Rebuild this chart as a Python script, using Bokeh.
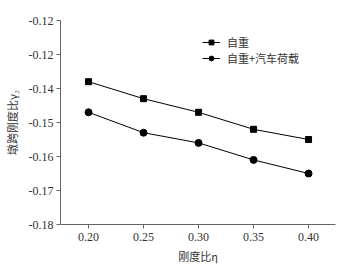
from bokeh.plotting import figure
from bokeh.models import Legend, LegendItem, FixedTicker, Range1d
from bokeh.embed import file_html
from bokeh.resources import INLINE

eta = [0.20, 0.25, 0.30, 0.35, 0.40]
self_weight = [-0.138, -0.143, -0.147, -0.152, -0.155]
self_weight_vehicle = [-0.147, -0.153, -0.156, -0.161, -0.165]
y_ticks = [-0.18, -0.17, -0.16, -0.15, -0.14, -0.13, -0.12]
y_tick_labels = ["-0.18", "-0.17", "-0.16", "-0.15", "-0.14", "-0.12", "-0.12"]
x_tick_labels = ["0.20", "0.25", "0.30", "0.35", "0.40"]
series_names = ["自重", "自重+汽车荷载"]

serif = "'Liberation Serif', serif"
cjk = "Noto Sans CJK SC"
axis_color = "#666666"
text_color = "#333333"

p = figure(width=343, height=255, frame_width=275, frame_height=204,
           x_range=Range1d(0.1745, 0.4245), y_range=Range1d(-0.18, -0.12),
           output_backend="svg", toolbar_location=None,
           min_border_left=54, min_border_right=14, min_border_top=20, min_border_bottom=10)
p.outline_line_color = None
p.xgrid.visible = False
p.ygrid.visible = False
p.background_fill_color = "white"

r1 = p.line(eta, self_weight, line_color="black", line_width=1)
s1 = p.scatter(eta, self_weight, marker="square", size=6, fill_color="black", line_color="black")
r2 = p.line(eta, self_weight_vehicle, line_color="black", line_width=1)
s2 = p.scatter(eta, self_weight_vehicle, marker="circle", size=7, fill_color="black", line_color="black")

for ax in (p.xaxis[0], p.yaxis[0]):
    ax.axis_line_color = axis_color
    ax.major_tick_line_color = axis_color
    ax.minor_tick_line_color = None
    ax.major_tick_out = 4
    ax.major_tick_in = 0
    ax.major_label_text_font = serif
    ax.major_label_text_font_size = "12px"
    ax.major_label_text_color = text_color
    ax.axis_label_text_font = cjk
    ax.axis_label_text_font_size = "11px"
    ax.axis_label_text_font_style = "normal"
    ax.axis_label_text_color = text_color

p.xaxis.ticker = FixedTicker(ticks=eta)
p.xaxis.major_label_overrides = {v: l for v, l in zip(eta, x_tick_labels)}
p.yaxis.ticker = FixedTicker(ticks=y_ticks)
p.yaxis.major_label_overrides = {v: l for v, l in zip(y_ticks, y_tick_labels)}
p.xaxis.axis_label = "刚度比η"
p.yaxis.axis_label = "墩跨刚度比γ₂"
p.xaxis.axis_label_standoff = 4
p.yaxis.axis_label_standoff = 6
p.xaxis.major_label_standoff = 4
p.yaxis.major_label_standoff = 3

legend = Legend(items=[LegendItem(label=series_names[0], renderers=[r1, s1]),
                       LegendItem(label=series_names[1], renderers=[r2, s2])],
                location=(142, 158))
legend.border_line_color = None
legend.background_fill_alpha = 0
legend.label_text_font = cjk
legend.label_text_font_size = "11px"
legend.label_text_color = text_color
legend.glyph_width = 18
legend.glyph_height = 12
legend.label_height = 12
legend.spacing = -4
legend.padding = 0
legend.margin = 0
legend.label_standoff = 7
p.add_layout(legend, "center")

open("out.html", "w").write(file_html(p, INLINE))
